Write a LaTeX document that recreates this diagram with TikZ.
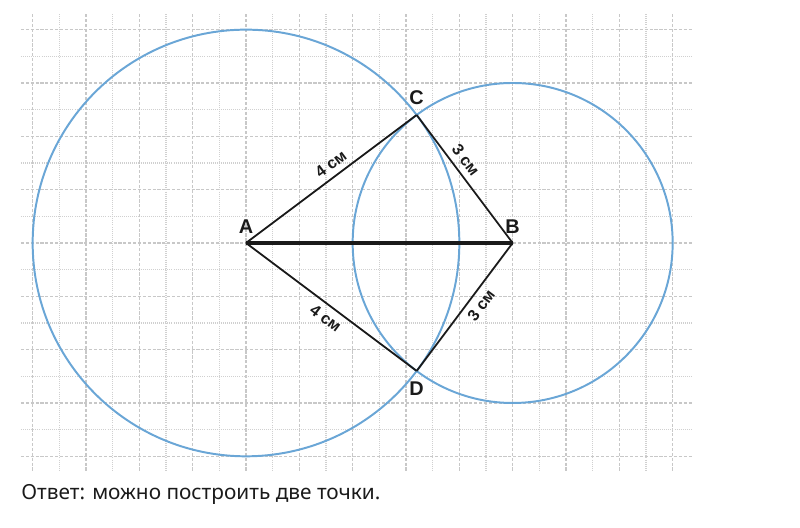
\documentclass[tikz,border=0pt]{standalone}
\usepackage{fontspec}
\setmainfont{Noto Sans}
\newfontfamily\labfont{Liberation Sans}
\begin{document}
\begin{tikzpicture}
\definecolor{circblue}{HTML}{6AA6D6}
\definecolor{gridmaj}{HTML}{C8C8C8}
\definecolor{gridmin}{HTML}{D0D0D0}
\definecolor{inkc}{HTML}{1A1A1A}
\tikzset{
  majline/.style={gridmaj, line width=0.7pt, dash pattern=on 1.7pt off 0.9pt},
  minline/.style={gridmin, line width=0.6pt, dash pattern=on 0.5pt off 0.6pt},
  circ/.style={circblue, line width=1.05pt},
  seg/.style={inkc, line width=0.95pt},
  mainseg/.style={inkc, line width=1.7pt},
  ptlabel/.style={font=\labfont\fontsize{10.6}{12}\selectfont\bfseries, text=inkc, inner sep=0pt},
  lenlabel/.style={font=\labfont\fontsize{8.6}{10}\selectfont\bfseries, text=inkc, sloped, inner sep=3pt},
  answer/.style={font=\fontsize{11.1}{13}\selectfont, text=inkc, anchor=base west, inner sep=0pt}
}
\useasboundingbox (-4.6125,-5.344) rectangle (10.3875,4.556);
% grid
\foreach \i in {0,...,24} {
  \pgfmathsetmacro{\xx}{-4+0.5*\i}
  \ifodd\i
    \draw[minline] (\xx,4.29) -- (\xx,-4.29);
  \else
    \draw[majline] (\xx,4.29) -- (\xx,-4.29);
  \fi
}
\foreach \j in {0,...,16} {
  \pgfmathsetmacro{\yy}{-4+0.5*\j}
  \ifodd\j
    \draw[minline] (-4.22,\yy) -- (8.38,\yy);
  \else
    \draw[majline] (-4.22,\yy) -- (8.38,\yy);
  \fi
}
% points
\coordinate (A) at (0,0);
\coordinate (B) at (5,0);
\coordinate (C) at (3.2,2.4);
\coordinate (D) at (3.2,-2.4);
% circles
\draw[circ] (A) circle (4);
\draw[circ] (B) circle (3);
% segments
\draw[mainseg] (A) -- (B);
\draw[seg] (A) -- node[lenlabel, pos=0.54, above] {4 см} (C);
\draw[seg] (C) -- node[lenlabel, pos=0.41, above] {3 см} (B);
\draw[seg] (A) -- node[lenlabel, pos=0.51, below] {4 см} (D);
\draw[seg] (D) -- node[lenlabel, pos=0.57, below] {3 см} (B);
% labels
\node[ptlabel] (lA) at (0,0.30) {A};
\node[ptlabel] (lB) at (5.0,0.30) {B};
\node[ptlabel] (lC) at (3.2,2.72) {C};
\node[ptlabel] (lD) at (3.2,-2.74) {D};
\node[answer] (ans) at (-4.22,-4.81) {Ответ: можно построить две точки.};
\end{tikzpicture}
\end{document}
